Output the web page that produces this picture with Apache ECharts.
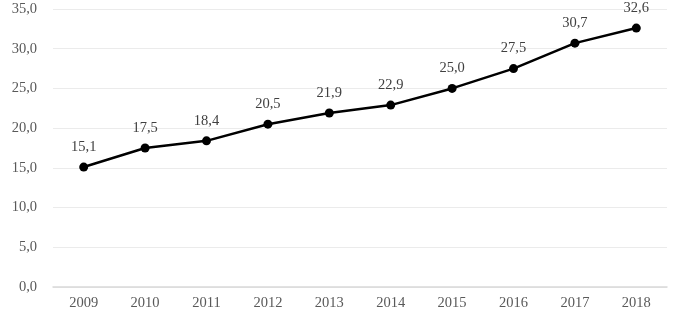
<!DOCTYPE html>
<html>
<head>
<meta charset="utf-8">
<script src="https://cdn.jsdelivr.net/npm/echarts@6/dist/echarts.min.js"></script>
<style>
  html, body { margin: 0; padding: 0; background: #fff; }
  #chart { width: 687px; height: 313px; }
</style>
</head>
<body>
<div id="chart"></div>
<script>
const years = ["2009", "2010", "2011", "2012", "2013", "2014", "2015", "2016", "2017", "2018"];
const values = [15.1, 17.5, 18.4, 20.5, 21.9, 22.9, 25.0, 27.5, 30.7, 32.6];

const fmt = (v) => v.toFixed(1).replace(".", ",");

const myChart = echarts.init(document.getElementById("chart"));
const option = {
  animation: false,
  grid: { left: 53, right: 20, top: 9, bottom: 26 },
  textStyle: { fontFamily: "Liberation Serif" },
  xAxis: {
    type: "category",
    data: years,
    boundaryGap: true,
    axisTick: { show: false },
    axisLine: { lineStyle: { color: "#d9d9d9", width: 1.5 } },
    axisLabel: { color: "#595959", fontSize: 14.5, fontFamily: "Liberation Serif", margin: 9 },
  },
  yAxis: {
    type: "value",
    min: 0,
    max: 35,
    interval: 5,
    axisLabel: {
      color: "#595959",
      fontSize: 14.5,
      fontFamily: "Liberation Serif",
      margin: 16,
      formatter: (v) => fmt(v),
    },
    splitLine: { lineStyle: { color: "#ebebeb", width: 1 } },
  },
  series: [
    {
      type: "line",
      data: values,
      symbol: "circle",
      symbolSize: 9,
      lineStyle: { color: "#000", width: 2.5 },
      itemStyle: { color: "#000" },
      label: {
        show: true,
        position: "top",
        distance: 8,
        color: "#404040",
        fontSize: 14.5,
        fontFamily: "Liberation Serif",
        formatter: (p) => fmt(p.value),
      },
    },
  ],
};
myChart.setOption(option);
window.addEventListener("resize", function () {
  myChart.resize();
});
</script>
</body>
</html>
